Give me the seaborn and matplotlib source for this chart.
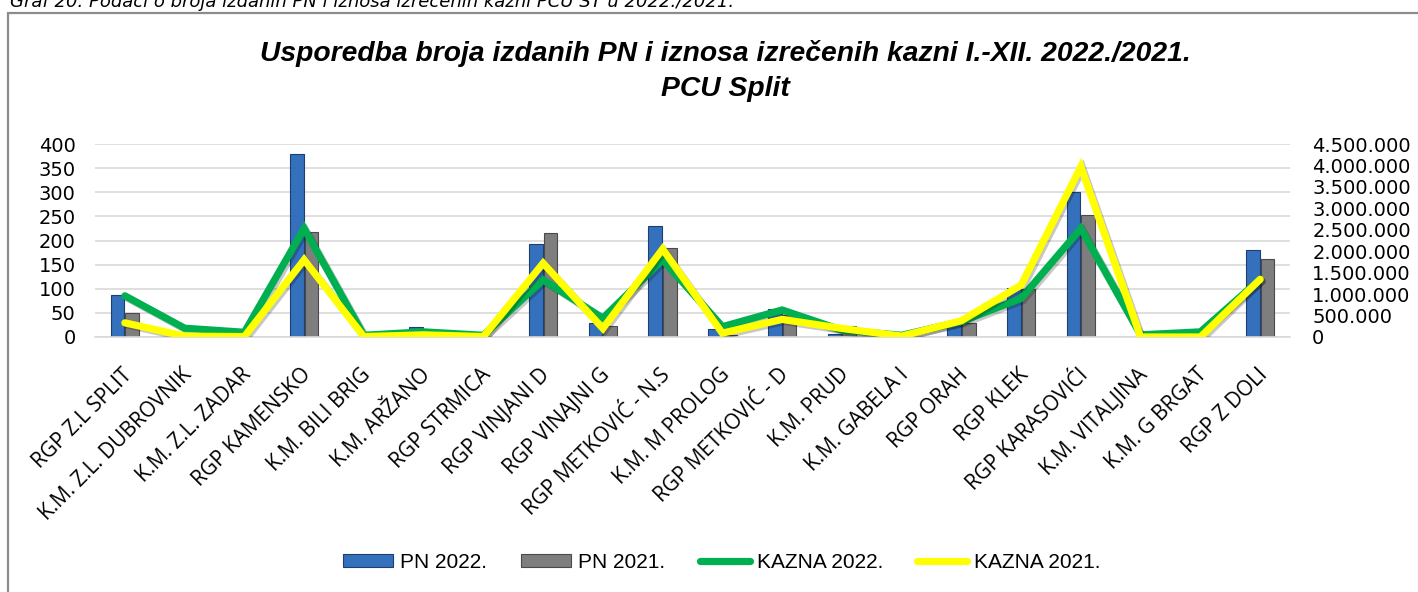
import numpy as np
import pandas as pd
import matplotlib
matplotlib.use("Agg")
import matplotlib.pyplot as plt
import matplotlib.patheffects as pe
import seaborn as sns
from matplotlib.patches import Patch, Rectangle
from matplotlib.lines import Line2D
from matplotlib.ticker import FuncFormatter, MultipleLocator
from matplotlib.transforms import ScaledTranslation

categories = ["RGP Z.L SPLIT", "K.M. Z.L. DUBROVNIK", "K.M. Z.L. ZADAR", "RGP KAMENSKO",
              "K.M. BILI BRIG", "K.M. ARŽANO", "RGP STRMICA", "RGP VINJANI D",
              "RGP VINAJNI G", "RGP METKOVIĆ - N.S", "K.M. M PROLOG", "RGP METKOVIĆ - D",
              "K.M. PRUD", "K.M. GABELA I", "RGP ORAH", "RGP KLEK", "RGP KARASOVIĆI",
              "K.M. VITALJINA", "K.M. G BRGAT", "RGP Z DOLI"]
pn_2022 = [87, 2, 1, 379, 1, 21, 1, 192, 30, 231, 16, 57, 6, 1, 30, 101, 301, 1, 1, 180]
pn_2021 = [49, 1, 1, 218, 1, 3, 1, 215, 22, 184, 5, 45, 23, 1, 29, 99, 253, 1, 1, 162]
kazna_2022 = [960000, 205000, 110000, 2530000, 40000, 120000, 40000, 1330000, 440000, 1800000,
              240000, 630000, 160000, 40000, 360000, 900000, 2530000, 50000, 120000, 1345000]
kazna_2021 = [330000, 20000, 10000, 1800000, 10000, 50000, 10000, 1720000, 200000, 2050000,
              90000, 410000, 200000, 20000, 380000, 1210000, 3970000, 0, 0, 1345000]
series_names = ["PN 2022.", "PN 2021.", "KAZNA 2022.", "KAZNA 2021."]
title_text = "Usporedba broja izdanih PN i iznosa izrečenih kazni I.-XII. 2022./2021.\nPCU Split"
caption_text = "Graf 20. Podaci o broja izdanih PN i iznosa izrečenih kazni PCU ST u 2022./2021."

BLUE, BLUE_EDGE = "#3470BC", "#1F3F72"
GRAY, GRAY_EDGE = "#7E7E7E", "#4A4A4A"
GREEN, YELLOW = "#00B050", "#FFFF00"

sns.set_theme(style="white")
plt.rcParams["font.family"] = ["DejaVu Sans"]
plt.rcParams["text.color"] = "black"

W, H = 1418, 592
fig = plt.figure(figsize=(W / 100, H / 100), dpi=100)
fig.patch.set_facecolor("white")

# outer frame
fig.patches.append(Rectangle((8 / W, -0.01), 1.02, 1 - 13 / H + 0.01, transform=fig.transFigure,
                             fill=False, edgecolor="#8C8C8C", linewidth=1.6, zorder=0))

ax = fig.add_axes([95 / W, 1 - 337 / H, (1290 - 95) / W, (337 - 144) / H])

df = pd.DataFrame({"cat": categories * 2,
                   "val": pn_2022 + pn_2021,
                   "series": [series_names[0]] * len(categories) + [series_names[1]] * len(categories)})
sns.barplot(data=df, x="cat", y="val", hue="series", order=categories,
            hue_order=series_names[:2], palette=[BLUE, GRAY], width=0.5, gap=0.08,
            ax=ax, legend=False, saturation=1)
for cont, ec in zip(ax.containers, [BLUE_EDGE, GRAY_EDGE]):
    for bar in cont:
        bar.set_edgecolor(ec)
        bar.set_linewidth(0.8)
        bar.set_zorder(2)

ax.set_ylim(0, 400)
ax.yaxis.set_major_locator(MultipleLocator(50))
ax.grid(axis="y", color="#D9D9D9", linewidth=1.2, zorder=0)
ax.set_axisbelow(True)
for s in ["top", "right", "left"]:
    ax.spines[s].set_visible(False)
ax.spines["bottom"].set_color("#D9D9D9")
ax.spines["bottom"].set_linewidth(1.2)
ax.set_xlabel("")
ax.set_ylabel("")
ax.tick_params(axis="y", length=0, pad=14, labelsize=14, labelcolor="black")
ax.tick_params(axis="x", length=0, pad=25)
ax.set_xticks(range(len(categories)))
ax.set_xticklabels(categories, rotation=45, ha="right", va="center",
                   rotation_mode="anchor", fontsize=15, color="black", family=["Open Sans", "DejaVu Sans"])
for lab in ax.get_xticklabels():
    lab.set_transform(lab.get_transform() + ScaledTranslation(4 / 100, 0, fig.dpi_scale_trans))
ax.set_xlim(-0.5, len(categories) - 0.5)

ax2 = ax.twinx()
xpos = np.arange(len(categories))
shadow = [pe.SimpleLineShadow(offset=(1.5, -1.5), alpha=0.22, shadow_color="black"), pe.Normal()]
sns.lineplot(x=xpos, y=kazna_2022, ax=ax2, color=GREEN, linewidth=5.2, legend=False,
             solid_joinstyle="miter", solid_capstyle="round", path_effects=shadow)
sns.lineplot(x=xpos, y=kazna_2021, ax=ax2, color=YELLOW, linewidth=5.2, legend=False,
             solid_joinstyle="miter", solid_capstyle="round", path_effects=shadow)
ax2.set_ylim(0, 4500000)
ax2.yaxis.set_major_locator(MultipleLocator(500000))
ax2.yaxis.set_major_formatter(FuncFormatter(lambda v, p: f"{int(v):,}".replace(",", ".")))
for s in ["top", "right", "left", "bottom"]:
    ax2.spines[s].set_visible(False)
ax2.set_ylabel("")
ax2.grid(False)
ax2.set_xlim(-0.5, len(categories) - 0.5)
ax2.tick_params(axis="y", which="both", right=True, length=0, pad=16, labelsize=14, labelcolor="black")
for t in ax2.yaxis.get_major_ticks():
    t.set_pad(16)

fig.text(725 / W, 1 - 71 / H, title_text, ha="center", va="center", fontsize=20.3,
         fontweight="bold", fontstyle="italic", linespacing=1.45, color="black",
         family=["Liberation Sans", "DejaVu Sans"])
fig.text(10 / W, 1 - 7 / H, caption_text, ha="left", va="baseline", fontsize=13,
         fontstyle="italic", family=["DejaVu Sans"], color="black")

handles = [Patch(facecolor=BLUE, edgecolor=BLUE_EDGE, linewidth=0.8),
           Patch(facecolor=GRAY, edgecolor=GRAY_EDGE, linewidth=0.8),
           Line2D([0], [0], color=GREEN, linewidth=5.2, solid_capstyle="round"),
           Line2D([0], [0], color=YELLOW, linewidth=5.2, solid_capstyle="round")]
fig.legend(handles, series_names, loc="center", bbox_to_anchor=(722 / W, 1 - 562 / H), ncol=4,
           frameon=False, handlelength=2.4, handleheight=0.6, handletextpad=0.33,
           columnspacing=1.65, prop={"family": ["Liberation Sans", "DejaVu Sans"], "size": 15})

fig.savefig("out.png", dpi=100, facecolor="white")
